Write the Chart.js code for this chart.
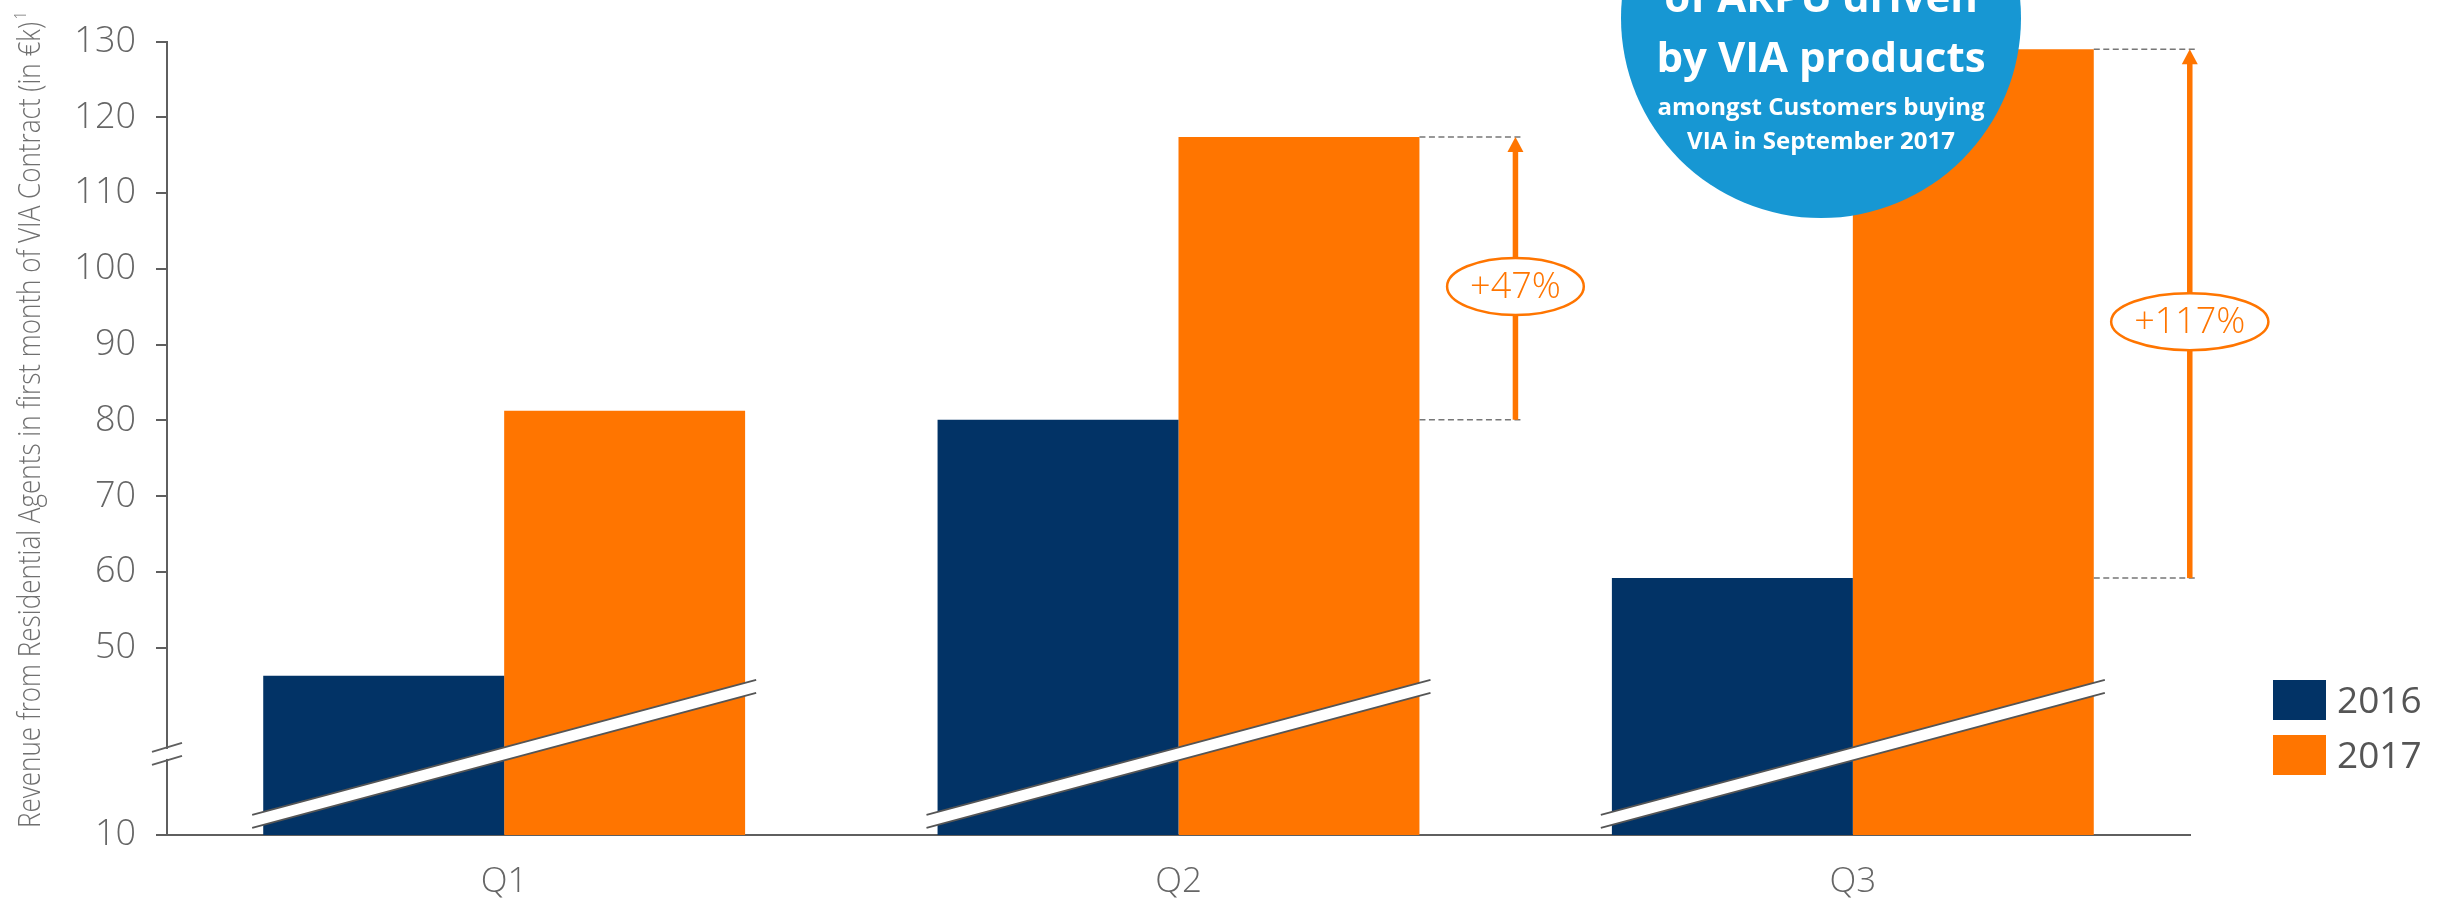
<!DOCTYPE html>
<html>
<head>
<meta charset="utf-8">
<script src="https://cdn.jsdelivr.net/npm/chart.js@4.4.1/dist/chart.umd.min.js"></script>
<style>
  html, body { margin: 0; padding: 0; background: #fff; }
  #wrap { position: relative; width: 2443px; height: 901px; }
</style>
</head>
<body>
<div id="wrap"><canvas id="chart"></canvas></div>
<script>
const quarters = ['Q1', 'Q2', 'Q3'];
const rev2016 = [46.3, 80.1, 59.2];
const rev2017 = [81.3, 117.4, 129.0];
const growthLabels = ['', '+47%', '+117%'];
const yTickValues = [50, 60, 70, 80, 90, 100, 110, 120, 130];
const yBreakLabel = '10';
const axisTitle = 'Revenue from Residential Agents in first month of VIA Contract (in €k)';
const calloutLines = ['of ARPU driven', 'by VIA products', 'amongst Customers buying', 'VIA in September 2017'];

const NAVY = '#023366';
const ORANGE = '#FF7500';
const GREY = '#666666';
const BLUE = '#1797D3';

// axis is broken: the floor of the scale is labelled "10"
const yFloor = 25.3;
const breakValue = 36;

/* ---------- DECORATION PLUGIN ---------- */
const decorPlugin = {
    id: 'decor',
    afterDatasetsDraw(chart) {
        const ctx = chart.ctx;
        const x = chart.scales.x, y = chart.scales.y;
        const area = chart.chartArea;
        const by = y.getPixelForValue(breakValue);

        // break bands across each bar group
        quarters.forEach((q, i) => {
            const c = x.getPixelForValue(i);
            const hw = 252, dy = 67.5;
            const t = by - 6.5, b = by + 6.5;
            ctx.save();
            ctx.fillStyle = '#fff';
            ctx.beginPath();
            ctx.moveTo(c - hw, t + dy);
            ctx.lineTo(c + hw, t - dy);
            ctx.lineTo(c + hw, b - dy);
            ctx.lineTo(c - hw, b + dy);
            ctx.closePath();
            ctx.fill();
            ctx.strokeStyle = '#555';
            ctx.lineWidth = 1.8;
            ctx.beginPath();
            ctx.moveTo(c - hw, t + dy); ctx.lineTo(c + hw, t - dy);
            ctx.moveTo(c - hw, b + dy); ctx.lineTo(c + hw, b - dy);
            ctx.stroke();
            ctx.restore();
        });

        // break on the y axis
        ctx.save();
        ctx.fillStyle = '#fff';
        ctx.fillRect(area.left - 3, by - 5, 6, 10);
        ctx.strokeStyle = '#5f5f5f';
        ctx.lineWidth = 2;
        ctx.beginPath();
        [by - 6.5, by + 6.5].forEach(yy => {
            ctx.moveTo(area.left - 15, yy + 4.5);
            ctx.lineTo(area.left + 15, yy - 4.5);
        });
        ctx.stroke();
        ctx.restore();

        // growth arrows
        const m0 = chart.getDatasetMeta(0), m1 = chart.getDatasetMeta(1);
        growthLabels.forEach((lab, i) => {
            if (!lab) return;
            const bar = m1.data[i];
            const right = bar.x + bar.width / 2;
            const yTop = bar.y, yLow = m0.data[i].y;
            const ax = right + 96;
            ctx.save();
            ctx.strokeStyle = '#777';
            ctx.lineWidth = 1.5;
            ctx.setLineDash([6, 3.5]);
            ctx.beginPath();
            ctx.moveTo(right, yTop); ctx.lineTo(right + 103, yTop);
            ctx.moveTo(right, yLow); ctx.lineTo(right + 103, yLow);
            ctx.stroke();
            ctx.setLineDash([]);
            ctx.fillStyle = ORANGE;
            ctx.fillRect(ax - 2.75, yTop + 14, 5.5, yLow - yTop - 14);
            ctx.beginPath();
            ctx.moveTo(ax, yTop);
            ctx.lineTo(ax + 8, yTop + 15);
            ctx.lineTo(ax - 8, yTop + 15);
            ctx.closePath();
            ctx.fill();

            ctx.font = '300 36px "Open Sans"';
            const tw = ctx.measureText(lab).width;
            const cy = (yTop + yLow) / 2 + 8;
            ctx.beginPath();
            ctx.ellipse(ax, cy, tw / 2 + 23, 28.5, 0, 0, Math.PI * 2);
            ctx.fillStyle = '#fff';
            ctx.fill();
            ctx.lineWidth = 2.5;
            ctx.strokeStyle = ORANGE;
            ctx.stroke();
            ctx.fillStyle = ORANGE;
            ctx.textAlign = 'center';
            ctx.textBaseline = 'middle';
            ctx.fillText(lab, ax, cy + 1);
            ctx.restore();
        });

        // legend
        ctx.save();
        chart.data.datasets.forEach((ds, k) => {
            const ly = 680 + k * 55;
            ctx.fillStyle = ds.backgroundColor;
            ctx.fillRect(2273, ly, 53, 40);
            ctx.fillStyle = '#555';
            ctx.font = '400 37px "Open Sans"';
            ctx.textBaseline = 'middle';
            ctx.textAlign = 'left';
            ctx.fillText(ds.label, 2337, ly + 22);
        });
        ctx.restore();

        // rotated axis title, condensed to fit
        ctx.save();
        ctx.translate(40, 828);
        ctx.rotate(-Math.PI / 2);
        ctx.font = '300 31px "Open Sans"';
        const w = ctx.measureText(axisTitle).width;
        const s = 806 / w;
        ctx.scale(s, 1);
        ctx.fillStyle = '#707070';
        ctx.textBaseline = 'alphabetic';
        ctx.fillText(axisTitle, 0, 0);
        ctx.font = '300 17px "Open Sans"';
        ctx.fillText('1', w + 3, -14);
        ctx.restore();
    },
    afterDraw(chart) {
        const ctx = chart.ctx;
        ctx.save();
        ctx.fillStyle = BLUE;
        ctx.beginPath();
        ctx.arc(1821, 18, 200, 0, Math.PI * 2);
        ctx.fill();
        ctx.fillStyle = '#fff';
        ctx.textAlign = 'center';
        ctx.textBaseline = 'alphabetic';
        const fonts = ['700 42px "Open Sans"', '700 42px "Open Sans"', '700 24px "Open Sans"', '700 24px "Open Sans"'];
        const bases = [12, 72, 115, 149];
        calloutLines.forEach((t, i) => {
            ctx.font = fonts[i];
            ctx.fillText(t, 1821, bases[i]);
        });
        ctx.restore();
    }
};

new Chart(document.getElementById('chart'), {
    type: 'bar',
    plugins: [decorPlugin],
    data: {
        labels: quarters,
        datasets: [
            { label: '2016', data: rev2016, backgroundColor: NAVY },
            { label: '2017', data: rev2017, backgroundColor: ORANGE }
        ]
    },
    options: {
        responsive: true,
        maintainAspectRatio: false,
        animation: false,
        layout: { padding: { top: 40, right: 253, left: 0, bottom: 0 } },
        plugins: { legend: { display: false }, tooltip: { enabled: false } },
        datasets: { bar: { barPercentage: 1, categoryPercentage: 0.7146, borderWidth: 0 } },
        scales: {
            x: {
                offset: true,
                grid: { display: false, drawTicks: false },
                border: { display: true, color: '#5f5f5f', width: 2 },
                ticks: { color: GREY, padding: 26, font: { family: 'Open Sans', size: 35, weight: '300' } },
                afterFit(scale) { scale.height = 66; }
            },
            y: {
                min: yFloor,
                max: 130,
                grid: { drawOnChartArea: false, drawTicks: true, tickLength: 11, color: '#5f5f5f', lineWidth: 2 },
                border: { display: true, color: '#5f5f5f', width: 2 },
                ticks: {
                    color: GREY,
                    padding: 20,
                    font: { family: 'Open Sans', size: 36, weight: '300' },
                    callback: v => (v === yFloor ? yBreakLabel : v)
                },
                afterBuildTicks(scale) {
                    scale.ticks = [yFloor].concat(yTickValues).map(v => ({ value: v }));
                },
                afterFit(scale) { scale.width = 167; }
            }
        }
    }
});
</script>
</body>
</html>
